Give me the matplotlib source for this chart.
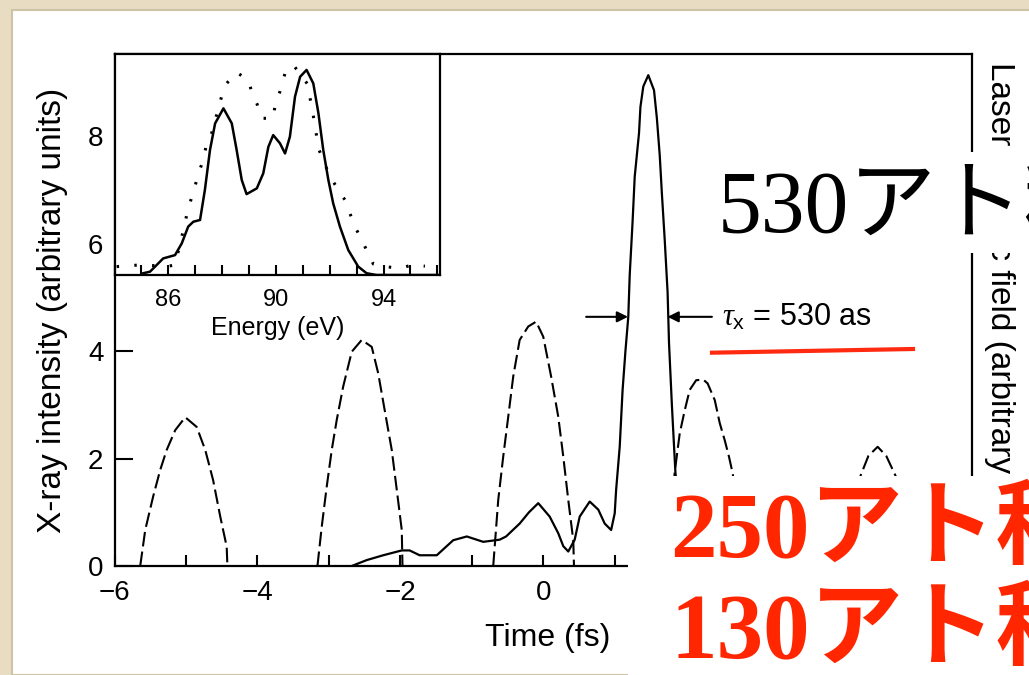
import matplotlib.pyplot as plt
from matplotlib.ticker import MultipleLocator, FixedLocator
from matplotlib.patches import Rectangle
from matplotlib.lines import Line2D

plt.rcParams['font.family'] = ['Liberation Sans', 'DejaVu Sans']
plt.rcParams['mathtext.fontset'] = 'custom'
plt.rcParams['mathtext.it'] = 'Liberation Serif:italic'
plt.rcParams['mathtext.rm'] = 'Liberation Sans'

# X-ray pulse (solid line)
time_fs = [-2.68, -2.47, -2.24, -1.98, -1.87, -1.73, -1.49, -1.26, -1.07, -0.84,
           -0.61, -0.52, -0.33, -0.2, -0.07, 0.09, 0.21, 0.28, 0.35, 0.44,
           0.51, 0.65, 0.77, 0.86, 0.95, 1.0, 1.02, 1.07, 1.11, 1.15,
           1.19, 1.21, 1.25, 1.28, 1.34, 1.36, 1.40, 1.47, 1.55, 1.59,
           1.63, 1.66, 1.70, 1.74, 1.76, 1.80, 1.85, 1.92, 2.0, 2.2,
           2.5, 2.9, 3.5, 4.2]
xray = [0, 0.11, 0.2, 0.29, 0.29, 0.2, 0.2, 0.48, 0.55, 0.45,
        0.49, 0.55, 0.79, 1.0, 1.17, 0.92, 0.61, 0.37, 0.27, 0.49,
        0.92, 1.2, 1.05, 0.79, 0.67, 0.98, 1.42, 2.22, 3.27, 4.0,
        4.64, 5.42, 6.41, 7.25, 8.06, 8.55, 8.93, 9.14, 8.86, 8.34,
        7.65, 6.94, 6.07, 5.1, 4.15, 3.0, 1.73, 0.9, 0.6, 0.7,
        0.4, 0.2, 0.1, 0.0]

# laser field lobes (dashed)
lobe1_t = [-5.64, -5.57, -5.46, -5.36, -5.27, -5.15, -5.01, -4.85, -4.73, -4.62, -4.52, -4.43, -4.42]
lobe1_e = [0, 0.67, 1.29, 1.79, 2.16, 2.53, 2.77, 2.59, 2.16, 1.6, 0.92, 0.36, 0]
lobe2_t = [-3.16, -3.10, -3.03, -2.96, -2.89, -2.80, -2.68, -2.54, -2.40, -2.31, -2.22, -2.12, -2.05, -1.98, -1.97]
lobe2_e = [0, 0.73, 1.48, 2.16, 2.72, 3.34, 3.99, 4.21, 4.08, 3.59, 2.91, 2.16, 1.42, 0.67, 0]
lobe3_t = [-0.70, -0.63, -0.56, -0.49, -0.42, -0.33, -0.21, -0.10, 0.0, 0.11, 0.21, 0.28, 0.35, 0.42, 0.43]
lobe3_e = [0, 1.23, 2.04, 2.78, 3.53, 4.21, 4.46, 4.55, 4.27, 3.53, 2.78, 2.04, 1.23, 0.48, 0]
lobe4_t = [1.72, 1.78, 1.84, 1.91, 1.98, 2.05, 2.14, 2.24, 2.30, 2.40, 2.47, 2.54, 2.60, 2.65, 2.75, 2.85]
lobe4_e = [0, 0.8, 1.75, 2.47, 2.9, 3.28, 3.46, 3.47, 3.4, 3.09, 2.66, 2.34, 2.03, 1.73, 0.9, 0]
lobe5_t = [4.2, 4.35, 4.44, 4.55, 4.68, 4.8, 4.93, 5.05, 5.2]
lobe5_e = [0, 1.0, 1.68, 2.05, 2.22, 2.05, 1.68, 1.0, 0]

# FWHM marker
fwhm_left, fwhm_right, half_max = 1.186, 1.74, 4.64

# inset spectra
energy = [85.07, 85.32, 85.81, 86.25, 86.5, 86.74, 86.93, 87.18, 87.36, 87.55,
          87.74, 88.05, 88.36, 88.54, 88.73, 88.91, 89.29, 89.53, 89.72, 89.9,
          90.15, 90.34, 90.52, 90.71, 90.9, 91.14, 91.39, 91.58, 91.76, 91.95,
          92.13, 92.38, 92.69, 93.06, 93.37, 93.74, 96.1]
spectrum = [0.008, 0.015, 0.075, 0.09, 0.143, 0.219, 0.241, 0.249, 0.385, 0.566,
            0.686, 0.754, 0.686, 0.566, 0.43, 0.366, 0.392, 0.46, 0.58, 0.633,
            0.596, 0.55, 0.626, 0.807, 0.897, 0.928, 0.867, 0.732, 0.566, 0.43,
            0.324, 0.219, 0.113, 0.038, 0.008, 0.0, 0.0]
energy_ref = [84.08, 84.88, 86.0, 86.25, 86.62, 86.71, 86.99, 87.12, 87.3, 87.4,
              87.61, 87.98, 88.17, 88.54, 88.97, 89.1, 89.29, 89.47, 89.9, 89.97,
              90.15, 90.34, 90.65, 91.2, 91.27, 91.45, 91.58, 92.01, 92.57, 92.75,
              92.94, 93.19, 93.37, 93.62, 94.06, 94.61, 95.05, 95.54]
spectrum_ref = [0.038, 0.045, 0.04, 0.045, 0.234, 0.287, 0.4, 0.46, 0.52, 0.58,
                0.641, 0.807, 0.867, 0.917, 0.882, 0.83, 0.777, 0.709, 0.709, 0.769,
                0.83, 0.913, 0.95, 0.86, 0.8, 0.68, 0.573, 0.445, 0.339, 0.279,
                0.219, 0.158, 0.113, 0.05, 0.038, 0.03, 0.045, 0.04]

W, H = 1029, 675
fig = plt.figure(figsize=(W / 100, H / 100), dpi=100)
fig.patch.set_facecolor('#e8ddc2')
fig.add_artist(Rectangle((12 / W, 0), 1, 1 - 10 / H, transform=fig.transFigure,
                         facecolor='white', edgecolor='#cfc3a6', lw=1.5, zorder=-1))

ax = fig.add_axes([114.5 / W, 1 - 566 / H, 857.5 / W, 512 / H])
ax.plot(time_fs, xray, color='black', lw=1.6)
for t, e in [(lobe1_t, lobe1_e), (lobe2_t, lobe2_e), (lobe3_t, lobe3_e),
             (lobe4_t, lobe4_e), (lobe5_t, lobe5_e)]:
    ax.plot(t, e, color='black', lw=1.5, ls=(0, (7, 2.5)))

ax.set_xlim(-6, 6)
ax.set_ylim(0, 512 / 53.7)
ax.xaxis.set_major_locator(MultipleLocator(2))
ax.xaxis.set_minor_locator(MultipleLocator(1))
ax.yaxis.set_major_locator(FixedLocator([0, 2, 4, 6, 8]))
ax.tick_params(axis='x', which='both', direction='in', length=8, width=1.5,
               labelsize=20, pad=10)
ax.tick_params(axis='y', direction='in', length=13, width=1.5, labelsize=20, pad=8)
for s in ax.spines.values():
    s.set_linewidth(1.6)

# tick labels 2, 4, 6 sit under the red caption in the slide
fig.canvas.draw()
for lab in ax.get_xticklabels():
    if lab.get_position()[0] > 1:
        lab.set_visible(False)

ax.set_xlabel('Time (fs)', fontsize=23)
ax.xaxis.set_label_coords(0.505, -0.112)
ax.set_ylabel('X-ray intensity (arbitrary units)', fontsize=24)
ax.yaxis.set_label_coords(-0.054, 0.5)

# FWHM arrows and label
ax.annotate('', xy=(fwhm_left, half_max), xytext=(0.6, half_max),
            arrowprops=dict(arrowstyle='-|>', color='black', lw=1.5,
                            mutation_scale=16, shrinkA=0, shrinkB=0))
ax.annotate('', xy=(fwhm_right, half_max), xytext=(2.36, half_max),
            arrowprops=dict(arrowstyle='-|>', color='black', lw=1.5,
                            mutation_scale=16, shrinkA=0, shrinkB=0))
ax.text(2.5, half_max, r'$\tau_{\mathrm{x}}$ = 530 as', fontsize=22, va='center', ha='left')

fig.text(1000 / W, 1 - 62 / H, 'Laser electric field (arbitrary units)', fontsize=24,
         rotation=270, ha='center', va='top')

# inset: spectrum
ins = fig.add_axes([114.5 / W, 1 - 275 / H, (440 - 114.5) / W, (275 - 54) / H])
ins.plot(energy, spectrum, color='black', lw=1.8)
ins.plot(energy_ref, spectrum_ref, color='black', lw=2.2, ls=(0, (0.8, 5)))
ins.set_xlim(84, 96.1)
ins.set_ylim(0, 1)
ins.set_yticks([])
ins.xaxis.set_major_locator(FixedLocator([86, 90, 94]))
ins.xaxis.set_minor_locator(MultipleLocator(1))
ins.tick_params(axis='x', which='both', direction='in', length=7, width=1.5,
                labelsize=17, pad=10)
for s in ins.spines.values():
    s.set_linewidth(1.6)
ins.set_xlabel('Energy (eV)', fontsize=18, labelpad=4)

# overlays added on the slide
fig.add_artist(Rectangle((705 / W, 1 - 253 / H), 1, 101 / H, transform=fig.transFigure,
                         facecolor='white', edgecolor='none', zorder=5))
fig.add_artist(Rectangle((628 / W, 0), 1, 1 - 476 / H, transform=fig.transFigure,
                         facecolor='white', edgecolor='none', zorder=5))
fig.text(718 / W, 1 - 232 / H, '530アト秒', fontsize=63, va='baseline', ha='left',
         family=['Liberation Serif', 'Noto Sans CJK JP'], zorder=6)
fig.text(670 / W, 1 - 557 / H, '250アト秒', fontsize=67, va='baseline', ha='left',
         weight='bold', color='#ff2600', family=['Liberation Serif', 'Noto Sans CJK JP'], zorder=6)
fig.text(670 / W, 1 - 658 / H, '130アト秒', fontsize=67, va='baseline', ha='left',
         weight='bold', color='#ff2600', family=['Liberation Serif', 'Noto Sans CJK JP'], zorder=6)
fig.add_artist(Line2D([712 / W, 913 / W], [1 - 352.7 / H, 1 - 349 / H], color='#ff2a10',
                      lw=3, transform=fig.transFigure, zorder=6))

fig.savefig('out.png', dpi=100)
